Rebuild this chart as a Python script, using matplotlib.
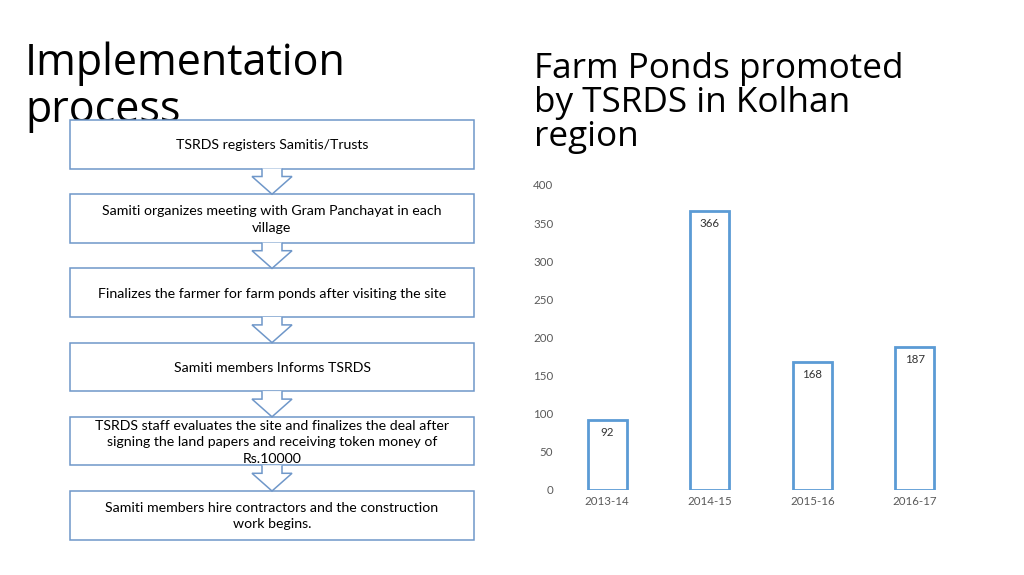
import matplotlib.pyplot as plt
from matplotlib.patches import Rectangle, Polygon

# ---- data ----
steps = [
    'TSRDS registers Samitis/Trusts',
    'Samiti organizes meeting with Gram Panchayat in each\nvillage',
    'Finalizes the farmer for farm ponds after visiting the site',
    'Samiti members Informs TSRDS',
    'TSRDS staff evaluates the site and finalizes the deal after\nsigning the land papers and receiving token money of\nRs.10000',
    'Samiti members hire contractors and the construction\nwork begins.',
]
years = ['2013-14', '2014-15', '2015-16', '2016-17']
ponds = [92, 366, 168, 187]
yticks = [0, 50, 100, 150, 200, 250, 300, 350, 400]

box_edge = '#6f97c9'
bar_edge = '#5b9bd5'
grey = '#595959'

fig = plt.figure(figsize=(10.24, 5.75), dpi=100)
fig.patch.set_facecolor('white')

# full-figure canvas in pixel coords for the slide stuff
cv = fig.add_axes([0, 0, 1, 1])
cv.set_xlim(0, 1024)
cv.set_ylim(575, 0)
cv.axis('off')

cv.text(25, 122, 'Implementation\nprocess', family='Open Sans', fontsize=31,
        va='baseline', ha='left', linespacing=1.07, color='black', zorder=1)
cv.text(534, 146, 'Farm Ponds promoted\nby TSRDS in Kolhan\nregion', family='Open Sans',
        fontsize=25.3, va='baseline', ha='left', linespacing=1.0, color='black')

#-------------- flow chart ----------------
bx0, bx1 = 70, 474
top0, bh, gap = 120, 48.5, 74.2
for i, s in enumerate(steps):
    top = top0 + i * gap
    cv.add_patch(Rectangle((bx0, top), bx1 - bx0, bh, facecolor='white',
                           edgecolor=box_edge, lw=1.1, zorder=2))
    cv.text((bx0 + bx1) / 2, top + bh / 2 + 1, s, family='Lato', fontsize=10.2,
            ha='center', va='center', linespacing=1.45, color='black', zorder=4)
    if i < len(steps) - 1:
        b = top + bh
        nxt = top + gap
        cx = 272
        pts = [(cx - 10, b), (cx - 10, b + 8), (cx - 20, b + 8), (cx, nxt),
               (cx + 20, b + 8), (cx + 10, b + 8), (cx + 10, b)]
        cv.add_patch(Polygon(pts, closed=False, facecolor='white',
                             edgecolor=box_edge, lw=1.1, zorder=3))

#-------------- bar chart ----------------
ax = fig.add_axes([556 / 1024, 85 / 575, 410 / 1024, 305 / 575])
x = range(len(years))
ax.bar(x, ponds, width=0.385, facecolor='white', edgecolor=bar_edge, lw=2.0)
for xi, v in zip(x, ponds):
    ax.annotate(str(v), (xi, v), xytext=(0, -5), textcoords='offset points',
                ha='center', va='top', family='Lato', fontsize=8.3, color='#333333')
ax.set_xlim(-0.5, 3.5)
ax.set_ylim(0, 400)
ax.set_yticks(yticks)
ax.set_xticks(list(x))
ax.set_xticklabels(years)
for sp in ax.spines.values():
    sp.set_visible(False)
ax.tick_params(length=0, labelsize=8.3, labelcolor=grey)
ax.tick_params(axis='x', pad=4)
ax.tick_params(axis='y', pad=2)
for t in ax.get_xticklabels() + ax.get_yticklabels():
    t.set_family('Lato')
ax.patch.set_alpha(0)

fig.savefig('out.png', dpi=100, facecolor='white')
